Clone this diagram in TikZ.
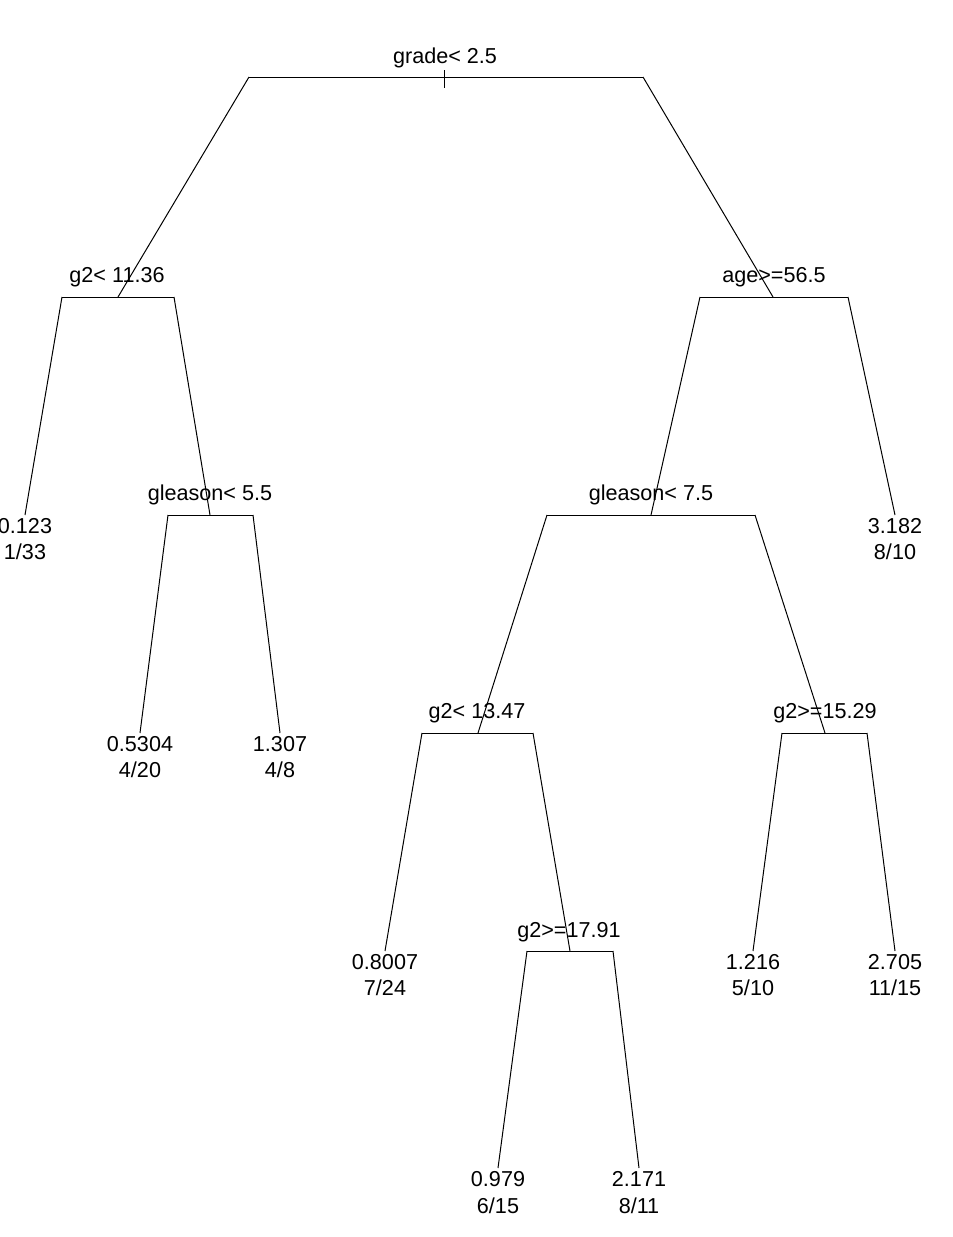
\documentclass[tikz,border=0pt]{standalone}
\usepackage{fontspec}
\setmainfont{Liberation Sans}
\usetikzlibrary{positioning}
\tikzset{
  branch/.style={draw=black,line width=1pt},
  splitlab/.style={anchor=base,inner sep=0pt,font=\fontsize{21.6}{26}\selectfont},
  leaflab/.style={anchor=base,inner sep=0pt,font=\fontsize{21.6}{26}\selectfont}
}

\begin{document}
\begin{tikzpicture}[x=1pt,y=-1pt]
  \useasboundingbox (0,0) rectangle (953,1237);
  % split vertices and their arm ends
  \coordinate (r) at (444,77);  \coordinate (rL) at (249,77);  \coordinate (rR) at (643,77);
  \coordinate (n2) at (118,297); \coordinate (n2L) at (62,297);  \coordinate (n2R) at (174,297);
  \coordinate (n3) at (773,297); \coordinate (n3L) at (700,297); \coordinate (n3R) at (848,297);
  \coordinate (n5) at (210,515); \coordinate (n5L) at (168,515); \coordinate (n5R) at (253,515);
  \coordinate (n6) at (651,515); \coordinate (n6L) at (547,515); \coordinate (n6R) at (755,515);
  \coordinate (n12) at (478,733); \coordinate (n12L) at (422,733); \coordinate (n12R) at (533,733);
  \coordinate (n13) at (825,733); \coordinate (n13L) at (782,733); \coordinate (n13R) at (867,733);
  \coordinate (n25) at (570,951); \coordinate (n25L) at (527,951); \coordinate (n25R) at (613,951);
  % leaves
  \coordinate (n4) at (25,515);   \coordinate (n7) at (895,515);
  \coordinate (n10) at (140,733); \coordinate (n11) at (280,733);
  \coordinate (n24) at (385,951); \coordinate (n26) at (753,951); \coordinate (n27) at (895,951);
  \coordinate (n50) at (498,1168); \coordinate (n51) at (639,1168);
  \coordinate (tickT) at (444,70); \coordinate (tickB) at (444,88);

  % arms
  \draw[branch] (rL) -- (rR);
  \draw[branch] (tickT) -- (tickB);
  \draw[branch] (n2L) -- (n2R);
  \draw[branch] (n3L) -- (n3R);
  \draw[branch] (n5L) -- (n5R);
  \draw[branch] (n6L) -- (n6R);
  \draw[branch] (n12L) -- (n12R);
  \draw[branch] (n13L) -- (n13R);
  \draw[branch] (n25L) -- (n25R);
  % edges
  \draw[branch] (rL) -- (n2);
  \draw[branch] (rR) -- (n3);
  \draw[branch] (n2L) -- (n4);
  \draw[branch] (n2R) -- (n5);
  \draw[branch] (n5L) -- (n10);
  \draw[branch] (n5R) -- (n11);
  \draw[branch] (n3L) -- (n6);
  \draw[branch] (n3R) -- (n7);
  \draw[branch] (n6L) -- (n12);
  \draw[branch] (n6R) -- (n13);
  \draw[branch] (n12L) -- (n24);
  \draw[branch] (n12R) -- (n25);
  \draw[branch] (n25L) -- (n50);
  \draw[branch] (n25R) -- (n51);
  \draw[branch] (n13L) -- (n26);
  \draw[branch] (n13R) -- (n27);

  % split labels
  \node[splitlab] (sr) at (445,63) {grade< 2.5};
  \node[splitlab] (s2) at (117,282.5) {g2< 11.36};
  \node[splitlab] (s3) at (774,282.5) {age>=56.5};
  \node[splitlab] (s5) at (210,500.5) {gleason< 5.5};
  \node[splitlab] (s6) at (651,500.5) {gleason< 7.5};
  \node[splitlab] (s12) at (477,718.5) {g2< 13.47};
  \node[splitlab] (s13) at (825,718.5) {g2>=15.29};
  \node[splitlab] (s25) at (569,937) {g2>=17.91};

  % leaf labels
  \node[leaflab] (m4) at (25,533) {0.123};   \node[leaflab] (f4) at (25,559) {1/33};
  \node[leaflab] (m7) at (895,533) {3.182};  \node[leaflab] (f7) at (895,559) {8/10};
  \node[leaflab] (m10) at (140,751) {0.5304}; \node[leaflab] (f10) at (140,777) {4/20};
  \node[leaflab] (m11) at (280,751) {1.307};  \node[leaflab] (f11) at (280,777) {4/8};
  \node[leaflab] (m24) at (385,969) {0.8007}; \node[leaflab] (f24) at (385,995) {7/24};
  \node[leaflab] (m26) at (753,969) {1.216};  \node[leaflab] (f26) at (753,995) {5/10};
  \node[leaflab] (m27) at (895,969) {2.705};  \node[leaflab] (f27) at (895,995) {11/15};
  \node[leaflab] (m50) at (498,1186) {0.979}; \node[leaflab] (f50) at (498,1213) {6/15};
  \node[leaflab] (m51) at (639,1186) {2.171}; \node[leaflab] (f51) at (639,1213) {8/11};
\end{tikzpicture}
\end{document}
